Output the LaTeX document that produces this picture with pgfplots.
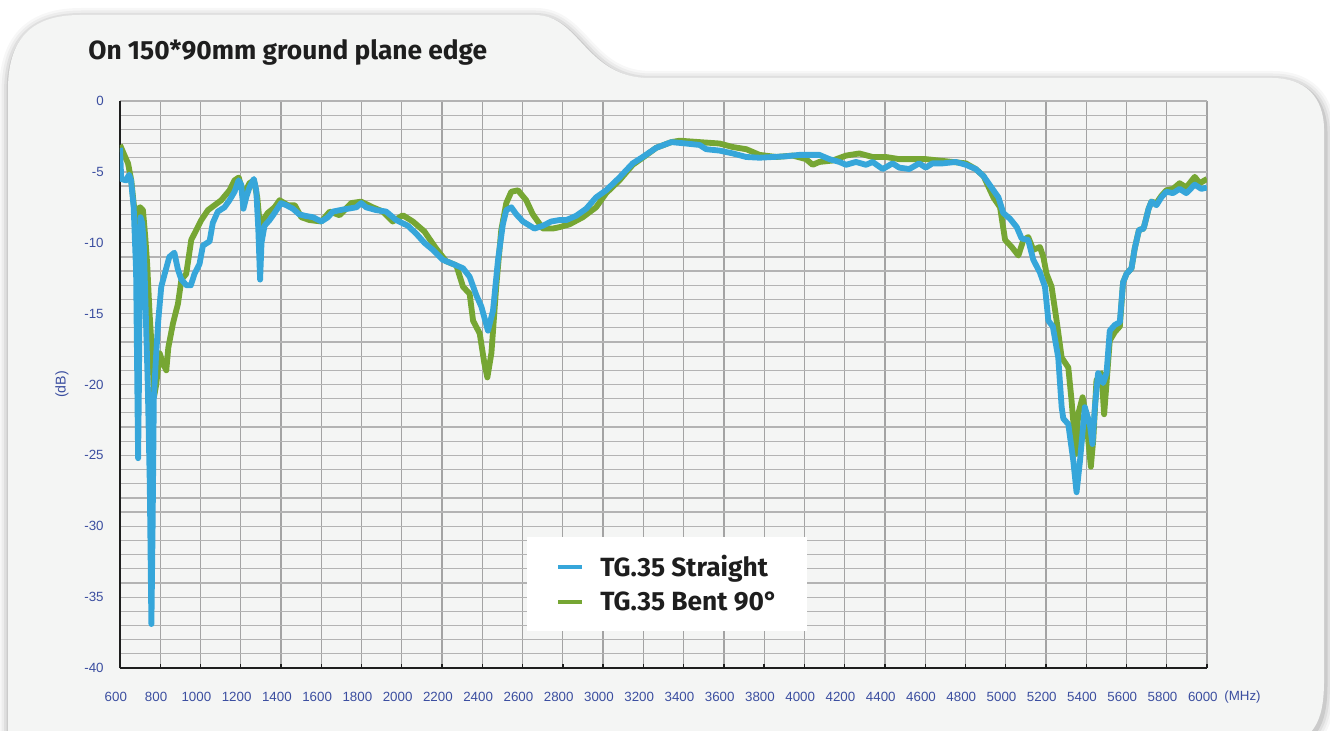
\documentclass[border=0pt]{standalone}
\usepackage{fontspec}
\setmainfont{Liberation Sans}
\newfontfamily\titlefont{Fira Sans}
\usepackage{pgfplots}
\pgfplotsset{compat=1.18}
\definecolor{panel}{HTML}{F4F5F4}
\definecolor{tickblue}{HTML}{3B4EA0}
\definecolor{sblue}{HTML}{36A6DA}
\definecolor{sgreen}{HTML}{76A633}
\definecolor{gridv}{HTML}{A3A3A3}
\definecolor{gridh}{HTML}{B3B3B3}
\definecolor{ink}{HTML}{1E1E1E}

\tikzset{panelpath/.style={insert path={(8,760) -- (8,90) .. controls (8,40) and (30,15) .. (80,15)
  -- (535,15) .. controls (580,15) and (585,78) .. (650,78) -- (1272,78)
  .. controls (1305,78) and (1324,97) .. (1324,130) -- (1324,680)
  .. controls (1324,718) and (1316,731) .. (1296,745) -- (1296,760) -- cycle}}}

\begin{document}
\begin{tikzpicture}
\useasboundingbox (0,0) rectangle (798pt,-438.6pt);
% panel, 1 unit = 1 px of the reference
\begin{scope}[x=0.6pt,y=-0.6pt]
  \foreach \w/\o in {20/0.03,15/0.04,10/0.06,5/0.09}
    \draw[black,opacity=\o,line width=\w*0.6pt,line join=round,shift={(1,3)},panelpath];
  \fill[panel,panelpath];
  \node[anchor=base west,inner sep=0,text=ink,
        font=\titlefont\bfseries\fontsize{15.8}{16}\selectfont] at (88,60) {On 150*90mm ground plane edge};
  \node[anchor=west,inner sep=0,text=tickblue,font=\fontsize{8}{9}\selectfont] at (1224,697) {(MHz)};
\end{scope}

\begin{axis}[
    at={(72pt,-400.8pt)}, anchor=south west,
    scale only axis, width=652.2pt, height=340.2pt,
    xmin=600, xmax=6000, ymin=-40, ymax=0,
    xtick={600,800,...,6000},
    ytick={0,-5,...,-40},
    minor y tick num=4,
    axis x line*=bottom, axis y line*=left,
    axis line style={ink, line width=1.2pt},
    grid=both,
    major x grid style={gridv, line width=0.75pt},
    major y grid style={gridh, line width=0.75pt},
    minor y grid style={gridh, line width=0.75pt},
    tick align=inside,
    major tick length=2.4pt, minor tick length=0pt,
    xtick style={ink, line width=0.8pt},
    ytick style={draw=none},
    ticklabel style={font=\fontsize{8}{9}\selectfont, text=tickblue,
      /pgf/number format/assume math mode=true, /pgf/number format/1000 sep={}},
    xticklabel style={anchor=north, inner sep=0pt, yshift=-14.6pt, xshift=-2.5pt},
    yticklabel style={anchor=east, inner sep=0pt, xshift=-9.6pt},
    ylabel={(dB)},
    ylabel style={at={(axis description cs:-0.0534,0.5)}, anchor=center,
      font=\fontsize{8.5}{9}\selectfont, text=tickblue},
    legend image code/.code={\draw[#1, line width=2.4pt] (0pt,0pt) -- (14.4pt,0pt);},
    legend cell align=left,
    reverse legend,
    legend style={at={(axis description cs:0.3744,0.231)}, anchor=north west,
      fill=white, draw=none, inner xsep=17.4pt, inner ysep=10.8pt,
      row sep=7.4pt, column sep=9.6pt,
      nodes={inner sep=0pt, text=ink},
      font=\titlefont\bfseries\fontsize{15.8}{16}\selectfont},
]
\addplot[sgreen, line width=3.5pt, line join=round] coordinates {
(600,-3.1) (615,-3.6) (640,-4.4) (656,-5.6) (670,-7.5) (681,-9.1) (690,-7.6) (700,-7.5)
(714,-7.7) (725,-9.5) (735,-11.5) (747,-15) (760,-18) (770,-20.8) (780,-20) (797,-17.8)
(813,-18.5) (830,-19) (840,-17.4) (863,-15.7) (888,-14.3) (905,-12.6) (929,-12.2) (954,-9.8)
(979,-9.1) (1004,-8.4) (1037,-7.7) (1070,-7.35) (1103,-7) (1144,-6.3) (1169,-5.6) (1190,-5.4)
(1205,-6.2) (1222,-6.4) (1243,-5.8) (1265,-5.6) (1282,-6.8) (1297,-9.1) (1310,-8.4) (1334,-7.9)
(1368,-7.5) (1393,-7) (1434,-7.35) (1468,-7.35) (1501,-8.2) (1542,-8.4) (1600,-8.5) (1642,-7.8)
(1691,-8.06) (1749,-7.2) (1798,-7.1) (1856,-7.5) (1906,-7.8) (1955,-8.5) (2005,-8.06) (2055,-8.5)
(2112,-9.2) (2170,-10.4) (2220,-11.3) (2271,-11.6) (2304,-13.1) (2337,-13.6) (2354,-15.5) (2387,-16.4)
(2410,-18.5) (2425,-19.5) (2445,-17.8) (2469,-13.1) (2494,-9.1) (2519,-7.2) (2544,-6.4) (2577,-6.3)
(2618,-7) (2651,-8) (2701,-9) (2750,-9) (2783,-8.9) (2833,-8.7) (2899,-8.2) (2965,-7.5)
(3015,-6.5) (3081,-5.6) (3147,-4.5) (3197,-4.0) (3264,-3.3) (3339,-2.9) (3380,-2.8) (3479,-2.9)
(3579,-3.0) (3645,-3.25) (3711,-3.4) (3777,-3.8) (3860,-3.95) (3942,-3.85) (4008,-4.1) (4041,-4.5)
(4074,-4.3) (4140,-4.2) (4207,-3.85) (4273,-3.7) (4339,-3.95) (4405,-3.95) (4471,-4.1) (4537,-4.1)
(4603,-4.1) (4669,-4.2) (4736,-4.3) (4802,-4.4) (4851,-4.8) (4890,-5.3) (4939,-6.8) (4972,-7.5)
(4997,-9.8) (5030,-10.3) (5063,-10.9) (5088,-9.8) (5112,-9.6) (5137,-10.5) (5170,-10.3) (5187,-11)
(5203,-12.2) (5228,-13.1) (5253,-15.5) (5278,-18.1) (5311,-18.8) (5327,-21.1) (5349,-24.9) (5360,-22.1)
(5382,-20.9) (5398,-22.1) (5423,-25.8) (5435,-23.9) (5451,-19.7) (5476,-19.2) (5489,-22.1) (5501,-19.9)
(5517,-16.9) (5542,-16.3) (5567,-15.9) (5583,-12.8) (5600,-12.2) (5625,-11.8) (5641,-10.4) (5662,-9.1)
(5685,-9.0) (5710,-7.6) (5724,-7.1) (5749,-7.2) (5773,-6.7) (5798,-6.3) (5831,-6.2) (5864,-5.8)
(5897,-6.1) (5939,-5.35) (5964,-5.8) (6000,-5.5)
};
\addplot[sblue, line width=3.5pt, line join=round] coordinates {
(600,-3.3) (606,-5.5) (630,-5.6) (645,-5.2) (655,-5.6) (668,-7.5) (680,-12) (686,-20)
(690,-25.2) (694,-20) (698,-12) (702,-8.2) (710,-8.6) (718,-10) (728,-15) (738,-20)
(748,-27) (756,-36.9) (762,-30) (768,-21) (778,-18.3) (790,-15.5) (805,-13.1) (822,-12.2)
(845,-11) (870,-10.7) (888,-11.9) (905,-12.6) (930,-13) (952,-13) (970,-12.2) (995,-11.5)
(1012,-10.2) (1045,-9.9) (1061,-8.6) (1086,-7.8) (1119,-7.5) (1144,-7) (1169,-6.4) (1189,-5.6)
(1202,-5.9) (1213,-7.6) (1227,-6.8) (1243,-6.1) (1265,-5.5) (1277,-6.3) (1287,-9) (1296,-12.6)
(1303,-10) (1318,-8.8) (1343,-8.4) (1368,-7.9) (1400,-7.2) (1426,-7.35) (1459,-7.6) (1491,-8.0)
(1520,-8.1) (1559,-8.2) (1600,-8.5) (1633,-8.2) (1658,-7.8) (1707,-7.66) (1774,-7.5) (1798,-7.2)
(1823,-7.5) (1873,-7.7) (1922,-7.8) (1972,-8.4) (2030,-8.8) (2071,-9.35) (2112,-10.0) (2154,-10.5)
(2203,-11.2) (2255,-11.5) (2304,-11.8) (2337,-12.4) (2370,-13.7) (2395,-14.5) (2428,-16.2) (2453,-14.8)
(2478,-11.2) (2502,-8.7) (2519,-7.7) (2544,-7.5) (2569,-8) (2602,-8.5) (2659,-9) (2701,-8.8)
(2742,-8.5) (2783,-8.4) (2817,-8.4) (2866,-8.1) (2916,-7.6) (2965,-6.8) (3015,-6.3) (3081,-5.4)
(3147,-4.4) (3197,-3.95) (3264,-3.3) (3339,-2.9) (3413,-3.0) (3479,-3.1) (3512,-3.4) (3579,-3.5)
(3645,-3.7) (3711,-3.95) (3777,-4.0) (3843,-3.95) (3909,-3.9) (3975,-3.8) (4041,-3.8) (4074,-3.8)
(4124,-4.1) (4174,-4.3) (4207,-4.5) (4256,-4.3) (4306,-4.5) (4339,-4.3) (4389,-4.8) (4438,-4.4)
(4471,-4.7) (4521,-4.8) (4570,-4.4) (4603,-4.7) (4636,-4.4) (4686,-4.4) (4752,-4.3) (4802,-4.5)
(4851,-4.8) (4890,-5.3) (4939,-6.3) (4964,-6.8) (4988,-7.9) (5021,-8.3) (5055,-8.9) (5079,-9.7)
(5112,-9.8) (5137,-11.2) (5170,-12.1) (5195,-13.1) (5212,-15.5) (5234,-15.9) (5261,-18.1) (5278,-21.6)
(5286,-22.4) (5311,-22.8) (5336,-25.4) (5352,-27.6) (5369,-25.4) (5393,-21.6) (5418,-22.8) (5431,-24.2)
(5443,-21.6) (5459,-19.2) (5484,-19.9) (5501,-19.2) (5517,-16.2) (5542,-15.8) (5567,-15.6) (5583,-12.8)
(5600,-12.2) (5625,-11.8) (5641,-10.4) (5662,-9.1) (5685,-9.0) (5710,-7.6) (5724,-7.1) (5749,-7.35)
(5773,-6.8) (5798,-6.4) (5831,-6.5) (5864,-6.2) (5897,-6.5) (5939,-5.9) (5972,-6.2) (6000,-6.1)
};
\legend{TG.35 Bent 90°, TG.35 Straight\hspace{6pt}}
\end{axis}
\end{tikzpicture}
\end{document}
